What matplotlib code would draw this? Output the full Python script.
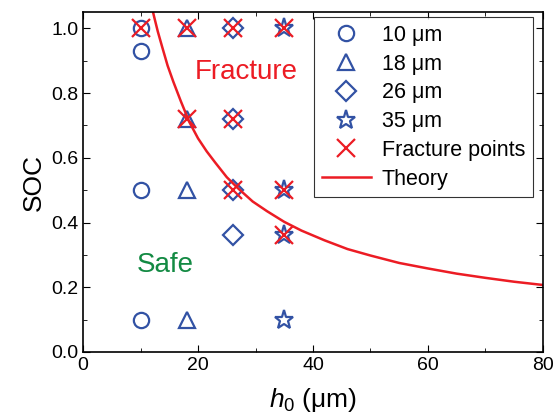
import matplotlib
matplotlib.use("Agg")
import matplotlib.pyplot as plt
from matplotlib.ticker import MultipleLocator

plt.rcParams['font.family'] = ['Liberation Sans', 'DejaVu Sans']
plt.rcParams['mathtext.fontset'] = 'custom'
plt.rcParams['mathtext.rm'] = 'Liberation Sans'
plt.rcParams['mathtext.it'] = 'Liberation Sans:italic'

blue = "#3252a4"
red = "#ec1c24"
green = "#138a43"

# measured points, per thickness
h10 = [10, 10, 10, 10]
soc10 = [1.0, 0.93, 0.5, 0.1]
h18 = [18, 18, 18, 18]
soc18 = [1.0, 0.72, 0.5, 0.1]
h26 = [26, 26, 26, 26]
soc26 = [1.0, 0.72, 0.5, 0.36]
h35 = [35, 35, 35, 35]
soc35 = [1.0, 0.5, 0.36, 0.1]

# points that fractured
fracH = [10, 18, 26, 35, 18, 26, 26, 35, 35]
fracSOC = [1.0, 1.0, 1.0, 1.0, 0.72, 0.72, 0.5, 0.5, 0.36]

# theory curve
theoryH = [11.8, 12.3, 13, 13.8, 14.7, 15.7, 17, 18.5, 20, 21.5, 23, 25, 27, 29.5,
           32, 35, 38, 42, 46, 50, 55, 60, 65, 70, 75, 80]
theorySOC = [1.08, 1.04, 0.99, 0.94, 0.885, 0.835, 0.775, 0.71, 0.66, 0.62, 0.585,
             0.54, 0.505, 0.465, 0.435, 0.402, 0.375, 0.345, 0.318, 0.298, 0.275,
             0.258, 0.242, 0.229, 0.217, 0.207]

fig = plt.figure(figsize=(5.54, 4.2), dpi=100)
ax = fig.add_axes([0.150, 0.162, 0.830, 0.809])

mk = dict(linestyle="none", markerfacecolor="none", markeredgecolor=blue, markeredgewidth=1.6)
ax.plot(h10, soc10, "o", markersize=11, label="10 \u03bcm", **mk)
ax.plot(h18, soc18, "^", markersize=12, label="18 \u03bcm", **mk)
ax.plot(h26, soc26, "D", markersize=10, label="26 \u03bcm", **mk)
ax.plot(h35, soc35, "*", markersize=14, label="35 \u03bcm", **mk)
ax.plot(fracH, fracSOC, "x", color=red, markersize=13, markeredgewidth=1.6,
        linestyle="none", label="Fracture points")
ax.plot(theoryH, theorySOC, "-", color=red, linewidth=1.8, label="Theory")

ax.text(19.5, 0.865, "Fracture", color=red, fontsize=20, va="center")
ax.text(9.3, 0.27, "Safe", color=green, fontsize=20, va="center")

ax.set_xlim(0, 80)
ax.set_ylim(0, 1.05)
ax.xaxis.set_major_locator(MultipleLocator(20))
ax.xaxis.set_minor_locator(MultipleLocator(10))
ax.yaxis.set_major_locator(MultipleLocator(0.2))
ax.yaxis.set_minor_locator(MultipleLocator(0.1))
ax.yaxis.set_major_formatter(plt.FormatStrFormatter("%.1f"))
ax.tick_params(which="both", direction="in", top=True, right=True, labelsize=14)
ax.tick_params(which="major", length=5)
ax.tick_params(which="minor", length=3)
for s in ax.spines.values():
    s.set_linewidth(1.2)

ax.set_xlabel("$h_0$ (\u03bcm)", fontsize=19, labelpad=9)
ax.set_ylabel("SOC", fontsize=19, labelpad=4)

leg = ax.legend(loc="upper right", fontsize=15.5, frameon=True, fancybox=False,
                edgecolor="black", bbox_to_anchor=(0.978, 0.985), borderaxespad=0,
                handlelength=2.3, labelspacing=0.36, borderpad=0.35, handletextpad=0.5)
leg.get_frame().set_linewidth(0.8)

fig.savefig("out.png", dpi=100)
